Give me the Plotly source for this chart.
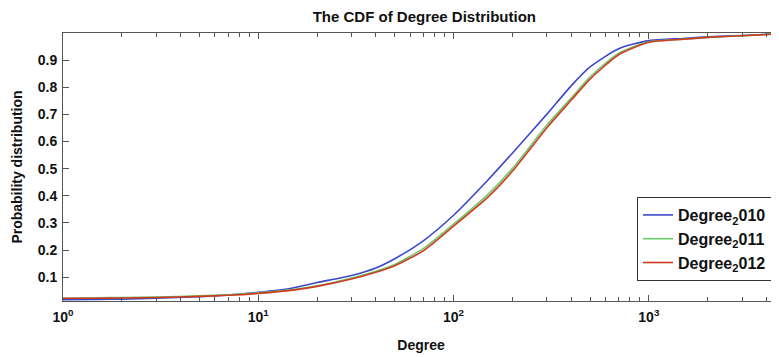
import plotly.graph_objects as go
import numpy as np

degree = [1, 1.5, 2, 3, 5, 7, 10, 15, 20, 30, 40, 50, 70, 100, 150, 200, 300, 400, 500, 700, 1000, 1500, 2000, 3000, 5000]
cdf_2010 = [0.017, 0.018, 0.019, 0.022, 0.028, 0.034, 0.044, 0.060, 0.080, 0.106, 0.134, 0.168, 0.234, 0.328, 0.458, 0.557, 0.700, 0.805, 0.875, 0.942, 0.972, 0.980, 0.986, 0.991, 0.998]
cdf_2011 = [0.022, 0.024, 0.025, 0.027, 0.031, 0.035, 0.042, 0.054, 0.068, 0.097, 0.122, 0.147, 0.205, 0.295, 0.405, 0.500, 0.660, 0.760, 0.838, 0.926, 0.968, 0.977, 0.984, 0.990, 0.998]
cdf_2012 = [0.022, 0.022, 0.023, 0.025, 0.029, 0.033, 0.040, 0.052, 0.066, 0.093, 0.118, 0.142, 0.197, 0.288, 0.395, 0.490, 0.650, 0.752, 0.830, 0.920, 0.966, 0.977, 0.984, 0.990, 0.998]

names = ["Degree<sub>2</sub>010", "Degree<sub>2</sub>011", "Degree<sub>2</sub>012"]
colors = ["#3c48c8", "#6ccc6c", "#d03a20"]
series = [cdf_2010, cdf_2011, cdf_2012]

x_major = [1, 10, 100, 1000]
x_major_text = ["10<sup>0</sup>", "10<sup>1</sup>", "10<sup>2</sup>", "10<sup>3</sup>"]
x_minor = [m * 10 ** k for k in range(0, 4) for m in range(2, 10)]
y_ticks = [0.1, 0.2, 0.3, 0.4, 0.5, 0.6, 0.7, 0.8, 0.9]

font_family = "Liberation Sans, Arial, sans-serif"
axis_col = "#555555"
txt_col = "#111111"

fig = go.Figure()
for n, c, s in zip(names, colors, series):
    fig.add_trace(go.Scatter(x=degree, y=s, mode="lines", name="<b>" + n + "</b>",
                             line=dict(color=c, width=1.6, shape="spline", smoothing=0.6)))

W, H = 771, 349
fig.update_layout(
    width=W, height=H,
    margin=dict(l=55, r=0, t=25, b=56, autoexpand=False),
    paper_bgcolor="white", plot_bgcolor="white",
    font=dict(family=font_family, color=txt_col),
    title=dict(text="<b>The CDF of Degree Distribution</b>", x=0.540, xanchor="center",
               y=1 - 3 / H, yanchor="top", automargin=False,
               font=dict(size=15, family=font_family, color=txt_col)),
    showlegend=True,
    legend=dict(x=0.8017, xanchor="left", y=0.388, yanchor="top",
                bgcolor="white", bordercolor="#333333", borderwidth=1,
                font=dict(size=16, family=font_family, color=txt_col),
                itemwidth=30),
)

fig.update_xaxes(
    type="log", range=[0, np.log10(4640)], automargin=False,
    tickmode="array", tickvals=x_major, ticktext=["<b>" + t + "</b>" for t in x_major_text],
    ticks="inside", ticklen=6, tickcolor=axis_col, tickwidth=1, ticklabelstandoff=3,
    minor=dict(tickmode="array", tickvals=x_minor, ticks="inside", ticklen=4,
               tickcolor=axis_col, tickwidth=1, showgrid=False),
    showline=True, linecolor=axis_col, linewidth=1, mirror="ticks",
    showgrid=False, zeroline=False,
    tickfont=dict(size=14, family=font_family, color=txt_col),
    title=dict(text="<b>Degree</b>", font=dict(size=14, family=font_family, color=txt_col), standoff=16),
)
fig.update_yaxes(
    range=[0.012, 1.0], automargin=False,
    tickmode="array", tickvals=y_ticks, ticktext=["<b>%.1f</b>" % v for v in y_ticks],
    ticks="inside", ticklen=6, tickcolor=axis_col, tickwidth=1, ticklabelstandoff=2,
    showline=True, linecolor=axis_col, linewidth=1, mirror="ticks",
    showgrid=False, zeroline=False,
    tickfont=dict(size=14, family=font_family, color=txt_col),
    title=dict(text="<b>Probability distribution</b>", font=dict(size=14, family=font_family, color=txt_col), standoff=11),
)

fig.write_html("out.html")
